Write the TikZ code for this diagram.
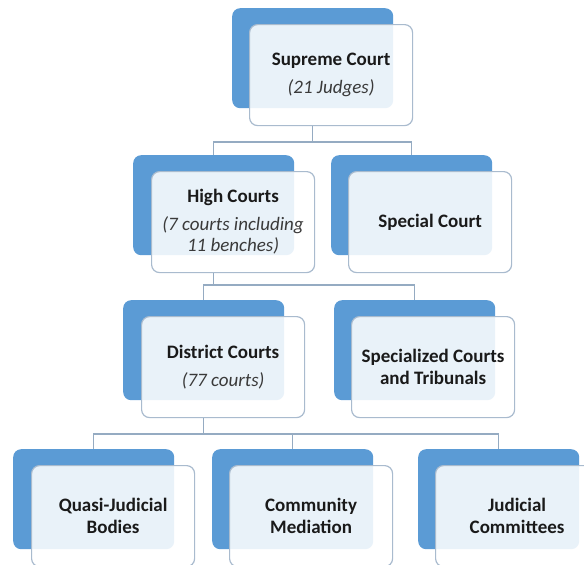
\documentclass[tikz,border=0pt]{standalone}
\usepackage{fontspec}
\setmainfont{Carlito}
\definecolor{bluebox}{HTML}{5B9BD5}
\definecolor{edgec}{HTML}{A9BBCE}
\definecolor{linec}{HTML}{95ABC2}
\definecolor{textc}{HTML}{1A1A1A}
\definecolor{subc}{HTML}{3A3A3A}
\newcommand\subline[1]{{\normalfont\itshape\color{subc}#1}}
\begin{document}
\begin{tikzpicture}[x=1pt,y=-1pt,
 back/.style={draw=none, fill=bluebox, rounded corners=8pt, minimum width=161pt, minimum height=100pt, inner sep=0pt, anchor=north west},
 front/.style={draw=edgec, line width=1.2pt, fill=white, fill opacity=0.87, text opacity=1, rounded corners=8pt, minimum width=163pt, minimum height=101pt, inner sep=0pt, anchor=north west, align=center, font=\fontsize{19}{21.5}\selectfont\bfseries, text=textc},
 conn/.style={draw=linec, line width=1.2pt}]
\useasboundingbox (0,0) rectangle (584,565);
\clip (0,0) rectangle (584,565);
% level 1
\node[back] (scb) at (232,8) {};
\node[front] (scw) at (249,24) {Supreme Court\\[6pt]\subline{(21 Judges)}};
% level 2
\node[back] (hcb) at (133,155) {};
\node[front] (hcw) at (151,171) {High Courts\\[6pt]\subline{(7 courts including}\\\subline{11 benches)}};
\node[back] (spb) at (331,155) {};
\node[front] (spw) at (348,171) {Special Court};
% level 3
\node[back] (dcb) at (123,300) {};
\node[front] (dcw) at (141,316) {District Courts\\[6pt]\subline{(77 courts)}};
\node[back] (stb) at (334,300) {};
\node[front] (stw) at (351,316) {Specialized Courts\\and Tribunals};
% level 4
\node[back] (qjb) at (13,449) {};
\node[front] (qjw) at (31,465) {Quasi-Judicial\\Bodies};
\node[back] (cmb) at (212,449) {};
\node[front] (cmw) at (229,465) {Community\\Mediation};
\node[back] (jcb) at (418,449) {};
\node[front] (jcw) at (435,465) {Judicial\\Committees};
% junctions
\coordinate (j1) at (scb.north |- 0,142);
\coordinate (j2) at (hcb.north |- 0,285);
\coordinate (j3) at (dcb.north |- 0,434);
% connectors
\draw[conn] (scb.north |- scw.south) -- (j1);
\draw[conn] (hcb.north) |- (j1) -| (spb.north);
\draw[conn] (hcb.north |- hcw.south) -- (j2);
\draw[conn] (dcb.north) |- (j2) -| (stb.north);
\draw[conn] (dcb.north |- dcw.south) -- (j3);
\draw[conn] (qjb.north) |- (j3) -| (jcb.north);
\draw[conn] (cmb.north) -- (cmb.north |- j3);
\end{tikzpicture}
\end{document}
